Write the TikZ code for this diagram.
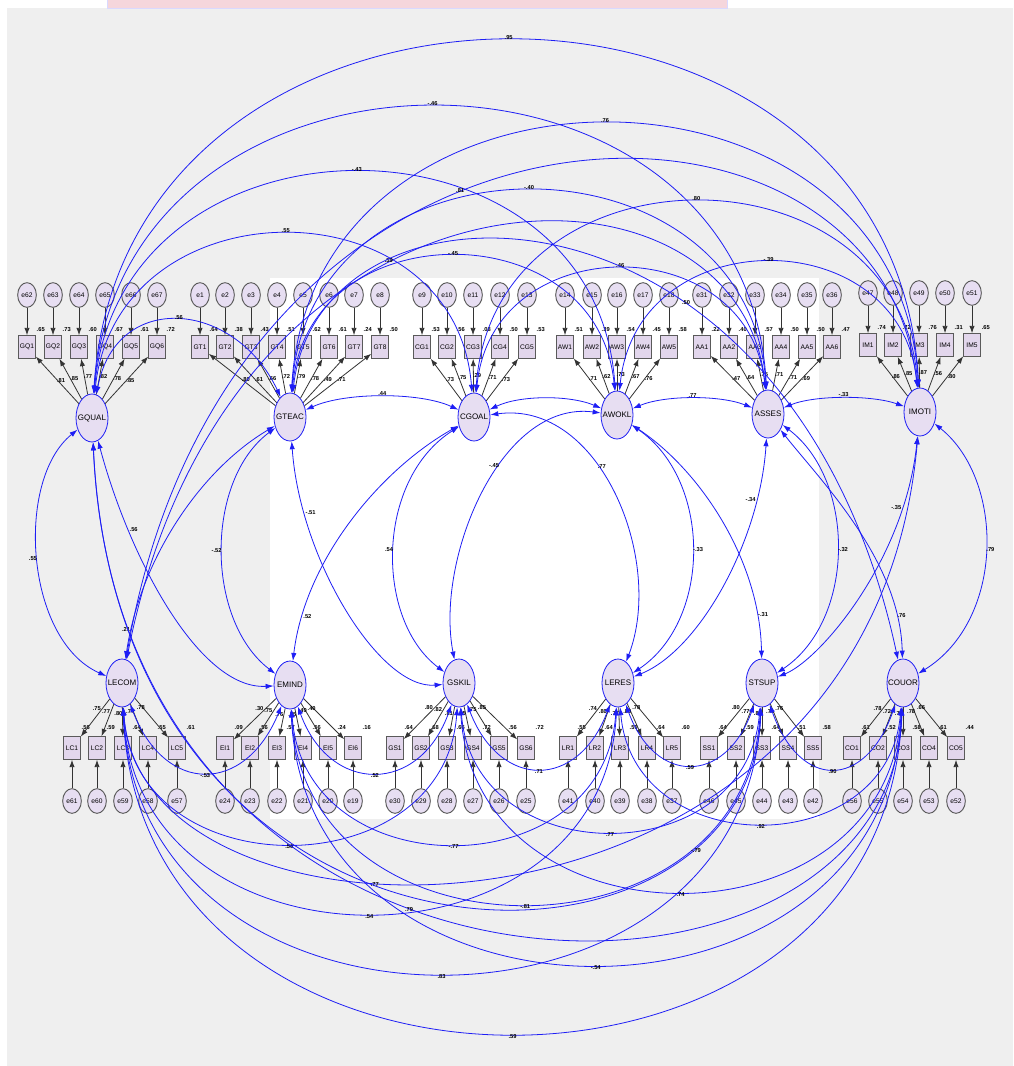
\documentclass[tikz,border=0pt]{standalone}
\usepackage{fontspec}
\setmainfont{Liberation Sans}
\usetikzlibrary{arrows.meta,positioning,shapes.geometric}
\definecolor{lav}{HTML}{E7DEF2}
\definecolor{boxlav}{HTML}{E2D6EC}
\definecolor{bggray}{HTML}{EFEFEF}
\definecolor{covblue}{HTML}{1E1EF5}
\definecolor{rim}{HTML}{5A5A5A}
\definecolor{pinkbar}{HTML}{F5D6DC}

\begin{document}
\begin{tikzpicture}[x=0.75pt,y=-0.75pt,
   lat/.style={ellipse,draw=covblue,fill=lav,line width=0.6pt,minimum width=24pt,minimum height=36pt,inner xsep=-3pt,inner ysep=0pt,font=\fontsize{6}{6}\selectfont},
   ind/.style={draw=rim,fill=boxlav,line width=0.7pt,minimum width=12.5pt,minimum height=17pt,inner sep=0pt,font=\fontsize{5}{5}\selectfont},
   err/.style={ellipse,draw=rim,fill=lav,line width=0.7pt,minimum width=14pt,minimum height=18.5pt,inner sep=0pt,font=\fontsize{5}{5}\selectfont},
   num/.style={font=\fontsize{4.3}{4.3}\selectfont\bfseries,inner sep=0.5pt},
   ld/.style={-{Latex[length=5.5pt,width=4pt]},draw=black!80,line width=0.6pt},
   cov/.style={{Latex[length=6pt,width=4pt]}-{Latex[length=6pt,width=4pt]},draw=covblue,line width=0.6pt}]
  \useasboundingbox (0,0) rectangle (1013,1066);
  % background
  \fill[white] (0,0) rectangle (1013,1066);
  \fill[bggray] (7,8) rectangle (1013,1066);
  \fill[white] (270,278) rectangle (819,819);
  \filldraw[fill=pinkbar,draw=blue!15] (107,-1) rectangle (727,8);

  % latent factors
  \node[lat] (GQUAL) at (92,418) {GQUAL};
  \node[lat] (GTEAC) at (290,417) {GTEAC};
  \node[lat] (CGOAL) at (474,417) {CGOAL};
  \node[lat] (AWOKL) at (617,415) {AWOKL};
  \node[lat] (ASSES) at (768,414) {ASSES};
  \node[lat] (IMOTI) at (920,412) {IMOTI};
  \node[lat] (LECOM) at (122,683) {LECOM};
  \node[lat] (EMIND) at (290,685) {EMIND};
  \node[lat] (GSKIL) at (459,683) {GSKIL};
  \node[lat] (LERES) at (618,683) {LERES};
  \node[lat] (STSUP) at (762,683) {STSUP};
  \node[lat] (COUOR) at (903,683) {COUOR};

  % top row indicators
  \foreach \i/\x/\e/\sq/\lo in {1/27/62/.65/.81,2/53/63/.73/.85,3/79/64/.60/.77,4/105/65/.67/.82,5/131/66/.61/.78,6/157/67/.72/.85}{
    \node[ind,label={[num,yshift=2pt]north east:\sq}] (GQ\i) at (\x,347) {GQ\i};
    \node[err] (e\e) at (\x,295) {e\e};
    \draw[ld] (e\e) -- (GQ\i);
    \draw[ld] (GQUAL) -- node[num,midway,right=-1pt]{\lo} (GQ\i);
  }
  \foreach \i/\x/\e/\sq/\lo in {1/200/1/.64/.80,2/225/2/.38/.61,3/251/3/.43/.66,4/277/4/.51/.72,5/303/5/.62/.79,6/329/6/.61/.78,7/354/7/.24/.49,8/380/8/.50/.71}{
    \node[ind,label={[num,yshift=2pt]north east:\sq}] (GT\i) at (\x,347) {GT\i};
    \node[err] (e\e) at (\x,295) {e\e};
    \draw[ld] (e\e) -- (GT\i);
    \draw[ld] (GTEAC) -- node[num,midway,right=-1pt]{\lo} (GT\i);
  }
  \foreach \i/\x/\e/\sq/\lo in {1/422/9/.53/.73,2/447/10/.56/.75,3/473/11/.08/.29,4/500/12/.50/.71,5/527/13/.53/.73}{
    \node[ind,label={[num,yshift=2pt]north east:\sq}] (CG\i) at (\x,347) {CG\i};
    \node[err] (e\e) at (\x,295) {e\e};
    \draw[ld] (e\e) -- (CG\i);
    \draw[ld] (CGOAL) -- node[num,midway,right=-1pt]{\lo} (CG\i);
  }
  \foreach \i/\x/\e/\sq/\lo in {1/565/14/.51/.71,2/592/15/.39/.62,3/617/16/.54/.73,4/643/17/.45/.67,5/669/18/.58/.76}{
    \node[ind,label={[num,yshift=2pt]north east:\sq}] (AW\i) at (\x,347) {AW\i};
    \node[err] (e\e) at (\x,295) {e\e};
    \draw[ld] (e\e) -- (AW\i);
    \draw[ld] (AWOKL) -- node[num,midway,right=-1pt]{\lo} (AW\i);
  }
  \foreach \i/\x/\e/\sq/\lo in {1/702/31/.22/.47,2/729/32/.40/.64,3/755/33/.57/.75,4/781/34/.50/.71,5/807/35/.50/.71,6/832/36/.47/.69}{
    \node[ind,label={[num,yshift=2pt]north east:\sq}] (AA\i) at (\x,347) {AA\i};
    \node[err] (e\e) at (\x,295) {e\e};
    \draw[ld] (e\e) -- (AA\i);
    \draw[ld] (ASSES) -- node[num,midway,right=-1pt]{\lo} (AA\i);
  }
  \foreach \i/\x/\e/\sq/\lo in {1/868/47/.74/.86,2/893/48/.72/.85,3/919/49/.76/.87,4/945/50/.31/.56,5/972/51/.65/.80}{
    \node[ind,label={[num,yshift=2pt]north east:\sq}] (IM\i) at (\x,345) {IM\i};
    \node[err] (e\e) at (\x,293) {e\e};
    \draw[ld] (e\e) -- (IM\i);
    \draw[ld] (IMOTI) -- node[num,midway,right=-1pt]{\lo} (IM\i);
  }

  % bottom row indicators
  \foreach \i/\x/\e/\sq/\lo in {1/72/61/.56/.75,2/97/60/.59/.77,3/123/59/.64/.80,4/148/58/.55/.74,5/177/57/.61/.78}{
    \node[ind,label={[num,yshift=4pt]north east:\sq}] (LC\i) at (\x,748) {LC\i};
    \node[err] (e\e) at (\x,801) {e\e};
    \draw[ld] (e\e) -- (LC\i);
    \draw[ld] (LECOM) -- node[num,pos=0.3,above left=-1pt]{\lo} (LC\i);
  }
  \foreach \i/\x/\e/\sq/\lo in {1/225/24/.09/.30,2/250/23/.56/.75,3/277/22/.57/.76,4/303/21/.56/.75,5/328/20/.24/.49,6/353/19/.16/.40}{
    \node[ind,label={[num,yshift=4pt]north east:\sq}] (EI\i) at (\x,748) {EI\i};
    \node[err] (e\e) at (\x,801) {e\e};
    \draw[ld] (e\e) -- (EI\i);
    \draw[ld] (EMIND) -- node[num,pos=0.3,above left=-1pt]{\lo} (EI\i);
  }
  \foreach \i/\x/\e/\sq/\lo in {1/395/30/.64/.80,2/421/29/.68/.82,3/447/28/.66/.81,4/473/27/.72/.85,5/499/26/.56/.75,6/526/25/.72/.85}{
    \node[ind,label={[num,yshift=4pt]north east:\sq}] (GS\i) at (\x,748) {GS\i};
    \node[err] (e\e) at (\x,801) {e\e};
    \draw[ld] (e\e) -- (GS\i);
    \draw[ld] (GSKIL) -- node[num,pos=0.3,above left=-1pt]{\lo} (GS\i);
  }
  \foreach \i/\x/\e/\sq/\lo in {1/568/41/.55/.74,2/595/40/.64/.80,3/620/39/.59/.77,4/647/38/.64/.80,5/672/37/.60/.78}{
    \node[ind,label={[num,yshift=4pt]north east:\sq}] (LR\i) at (\x,748) {LR\i};
    \node[err] (e\e) at (\x,801) {e\e};
    \draw[ld] (e\e) -- (LR\i);
    \draw[ld] (LERES) -- node[num,pos=0.3,above left=-1pt]{\lo} (LR\i);
  }
  \foreach \i/\x/\e/\sq/\lo in {1/709/46/.64/.80,2/736/45/.59/.77,3/762/44/.64/.80,4/788/43/.51/.71,5/813/42/.58/.76}{
    \node[ind,label={[num,yshift=4pt]north east:\sq}] (SS\i) at (\x,748) {SS\i};
    \node[err] (e\e) at (\x,801) {e\e};
    \draw[ld] (e\e) -- (SS\i);
    \draw[ld] (STSUP) -- node[num,pos=0.3,above left=-1pt]{\lo} (SS\i);
  }
  \foreach \i/\x/\e/\sq/\lo in {1/852/56/.61/.78,2/878/55/.52/.72,3/903/54/.58/.76,4/929/53/.61/.78,5/956/52/.44/.66}{
    \node[ind,label={[num,yshift=4pt]north east:\sq}] (CO\i) at (\x,748) {CO\i};
    \node[err] (e\e) at (\x,801) {e\e};
    \draw[ld] (e\e) -- (CO\i);
    \draw[ld] (COUOR) -- node[num,pos=0.3,above left=-1pt]{\lo} (CO\i);
  }

  % covariances, top row
  \draw[cov] (GQUAL) .. controls (124,-76) and (895,-76) .. node[num,above]{.95} (IMOTI);
  \draw[cov] (GQUAL) .. controls (122,12) and (745,12) .. node[num,above]{-.46} (ASSES);
  \draw[cov] (GQUAL) .. controls (120,99) and (595,99) .. node[num,above]{-.43} (AWOKL);
  \draw[cov] (GQUAL) .. controls (118,181) and (455,181) .. node[num,above]{.55} (CGOAL);
  \draw[cov] (GQUAL) .. controls (116,290) and (235,300) .. node[num,above]{.56} (GTEAC);
  \draw[cov] (GTEAC) .. controls (312,35) and (898,35) .. node[num,above]{.76} (IMOTI);
  \draw[cov] (GTEAC) .. controls (310,124) and (748,124) .. node[num,above]{-.40} (ASSES);
  \draw[cov] (GTEAC) .. controls (308,211) and (598,211) .. node[num,above]{-.45} (AWOKL);
  \draw[cov] (CGOAL) .. controls (494,139) and (898,139) .. node[num,above]{.80} (IMOTI);
  \draw[cov] (CGOAL) .. controls (492,228) and (748,228) .. node[num,above]{.46} (ASSES);
  \draw[cov] (AWOKL) .. controls (637,220) and (900,220) .. node[num,above]{-.39} (IMOTI);
  \draw[cov] (GTEAC) .. controls (345,392) and (420,392) .. node[num,above]{.44} (CGOAL);
  \draw[cov] (CGOAL) .. controls (520,395) and (570,395) .. (AWOKL);
  \draw[cov] (AWOKL) .. controls (665,395) and (720,395) .. node[num,above]{.77} (ASSES);
  \draw[cov] (ASSES) .. controls (815,395) and (872,395) .. node[num,above]{-.33} (IMOTI);

  % covariances, bottom row
  \draw[cov] (LECOM) .. controls (140,1142) and (885,1142) .. node[num,below]{.59} (COUOR);
  \draw[cov] (LECOM) .. controls (138,1062) and (745,1062) .. node[num,below]{.83} (STSUP);
  \draw[cov] (EMIND) .. controls (306,1050) and (885,1050) .. node[num,below]{-.54} (COUOR);
  \draw[cov] (LECOM) .. controls (136,982) and (602,982) .. node[num,below]{.54} (LERES);
  \draw[cov] (EMIND) .. controls (305,969) and (745,969) .. node[num,below]{-.81} (STSUP);
  \draw[cov] (GSKIL) .. controls (475,953) and (886,953) .. node[num,below]{.74} (COUOR);
  \draw[cov] (EMIND) .. controls (304,889) and (603,889) .. node[num,below]{-.77} (LERES);
  \draw[cov] (LECOM) .. controls (134,889) and (444,889) .. node[num,below]{.56} (GSKIL);
  \draw[cov] (GSKIL) .. controls (474,873) and (746,873) .. node[num,below]{.77} (STSUP);
  \draw[cov] (LERES) .. controls (634,862) and (888,862) .. node[num,below]{.92} (COUOR);
  \draw[cov] (LECOM) .. controls (165,795) and (245,795) .. node[num,below]{-.53} (EMIND);
  \draw[cov] (EMIND) .. controls (330,795) and (420,795) .. node[num,below]{.52} (GSKIL);
  \draw[cov] (GSKIL) .. controls (500,790) and (578,790) .. node[num,below]{.71} (LERES);
  \draw[cov] (LERES) .. controls (655,785) and (725,785) .. node[num,below]{.59} (STSUP);
  \draw[cov] (STSUP) .. controls (800,790) and (865,790) .. node[num,below]{.90} (COUOR);

  % covariances, top with bottom
  \draw[cov] (GQUAL) .. controls (15,480) and (25,640) .. node[num,left]{.55} (LECOM);
  \draw[cov] (GTEAC) .. controls (205,480) and (205,620) .. node[num,left]{-.52} (EMIND);
  \draw[cov] (CGOAL) .. controls (375,480) and (375,620) .. node[num,left]{.54} (GSKIL);
  \draw[cov] (AWOKL) .. controls (712,480) and (712,620) .. node[num,right]{-.33} (LERES);
  \draw[cov] (ASSES) .. controls (856,480) and (856,620) .. node[num,right]{-.32} (STSUP);
  \draw[cov] (IMOTI) .. controls (1005,480) and (1005,620) .. node[num,right]{.79} (COUOR);
  \draw[cov] (CGOAL) .. controls (600,400) and (665,560) .. node[num,pos=0.4,right]{.77} (LERES);
  \draw[cov] (AWOKL) .. controls (500,400) and (435,560) .. node[num,pos=0.4,left]{-.45} (GSKIL);
  \draw[cov] (GQUAL) .. controls (130,560) and (200,690) .. node[num,pos=0.25,right]{.56} (EMIND);
  \draw[cov] (GTEAC) .. controls (300,560) and (380,690) .. node[num,pos=0.2,right]{-.51} (GSKIL);
  \draw[cov] (CGOAL) .. controls (380,470) and (305,560) .. node[num,pos=0.85,right]{.52} (EMIND);
  \draw[cov] (GTEAC) .. controls (200,470) and (140,560) .. node[num,pos=0.9,left]{.21} (LECOM);
  \draw[cov] (ASSES) .. controls (760,540) and (700,650) .. node[num,pos=0.2,left]{-.34} (LERES);
  \draw[cov] (AWOKL) .. controls (700,470) and (760,560) .. node[num,pos=0.85,right]{-.31} (STSUP);
  \draw[cov] (IMOTI) .. controls (905,560) and (820,660) .. node[num,pos=0.2,left]{-.35} (STSUP);
  \draw[cov] (ASSES) .. controls (820,480) and (900,560) .. node[num,pos=0.85,right]{.76} (COUOR);
  \draw[cov] (LECOM) .. controls (230,49) and (880,49) .. node[num,pos=0.42,above]{.81} (IMOTI);
  \draw[cov] (LECOM) .. controls (230,134) and (740,134) .. node[num,pos=0.4,above]{.59} (ASSES);
  \draw[cov] (COUOR) .. controls (790,157) and (320,157) .. node[num,pos=0.35,above]{.50} (GTEAC);
  \draw[cov] (GQUAL) .. controls (120,1051) and (890,1051) .. node[num,pos=0.42,below]{.79} (COUOR);
  \draw[cov] (IMOTI) .. controls (870,975) and (140,975) .. node[num,pos=0.62,below]{.77} (LECOM);
  \draw[cov] (GQUAL) .. controls (120,1009) and (750,1009) .. node[num,pos=0.8,right]{-.79} (STSUP);
\end{tikzpicture}
\end{document}
